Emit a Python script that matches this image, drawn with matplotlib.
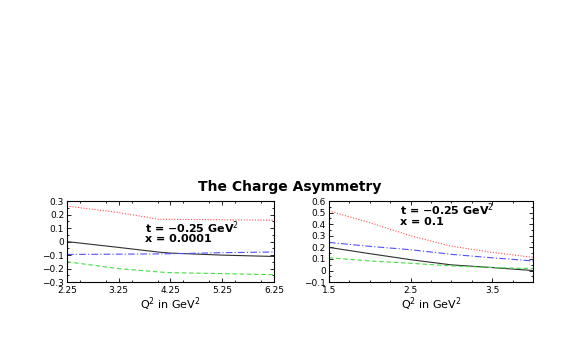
import numpy as np
import matplotlib.pyplot as plt
from matplotlib.ticker import MultipleLocator

# left panel, x = 0.0001
q2_left = [2.25, 3.25, 4.03, 4.25, 5.25, 6.25]
red_left = [0.263, 0.215, 0.165, 0.165, 0.162, 0.158]
black_left = [0.0, -0.043, -0.078, -0.085, -0.10, -0.11]
blue_left = [-0.095, -0.093, -0.091, -0.09, -0.082, -0.077]
green_left = [-0.149, -0.20, -0.225, -0.23, -0.237, -0.245]

# right panel, x = 0.1
q2_right = [1.5, 2.0, 2.5, 3.0, 3.5, 4.0]
red_right = [0.514, 0.414, 0.30, 0.21, 0.157, 0.114]
blue_right = [0.243, 0.209, 0.18, 0.14, 0.11, 0.083]
black_right = [0.20, 0.146, 0.094, 0.049, 0.026, 0.0]
green_right = [0.111, 0.083, 0.063, 0.04, 0.026, 0.017]

left_xticks = [2.25, 3.25, 4.25, 5.25, 6.25]
right_xticks = [1.5, 2.5, 3.5]
left_yticks = [-0.3, -0.2, -0.1, 0, 0.1, 0.2, 0.3]
right_yticks = [-0.1, 0, 0.1, 0.2, 0.3, 0.4, 0.5, 0.6]

plt.rcParams['font.family'] = ['DejaVu Sans']
plt.rcParams['axes.unicode_minus'] = True


def fmt(v):
    return ('%g' % v).replace('-', '\u2212')


fig = plt.figure(figsize=(5.72, 3.54), dpi=100)
ax1 = fig.add_axes([0.117, 0.203, 0.362, 0.229])
ax2 = fig.add_axes([0.575, 0.203, 0.357, 0.229])

styles = dict(
    red=dict(color='#ff5050', ls=(0, (1, 1.5)), lw=0.8),
    black=dict(color='#303030', ls='-', lw=0.8),
    blue=dict(color='#5050ff', ls=(0, (6, 2, 1, 2)), lw=0.8),
    green=dict(color='#40e040', ls=(0, (4, 2.5)), lw=0.8),
)

ax1.plot(q2_left, red_left, **styles['red'])
ax1.plot(q2_left, black_left, **styles['black'])
ax1.plot(q2_left, blue_left, **styles['blue'])
ax1.plot(q2_left, green_left, **styles['green'])
ax1.set_xlim(2.25, 6.25)
ax1.set_ylim(-0.3, 0.3)
ax1.set_xticks(left_xticks)
ax1.xaxis.set_minor_locator(MultipleLocator(0.5))
ax1.set_yticks(left_yticks)
ax1.set_yticklabels([fmt(v) for v in left_yticks])
ax1.yaxis.set_minor_locator(MultipleLocator(0.05))
ax1.text(3.76, 0.105, 't = \u22120.25 GeV$^2$', fontsize=8, fontweight='bold', va='center')
ax1.text(3.76, 0.018, 'x = 0.0001', fontsize=8, fontweight='bold', va='center')

ax2.plot(q2_right, red_right, **styles['red'])
ax2.plot(q2_right, blue_right, **styles['blue'])
ax2.plot(q2_right, black_right, **styles['black'])
ax2.plot(q2_right, green_right, **styles['green'])
ax2.set_xlim(1.5, 4.0)
ax2.set_ylim(-0.1, 0.6)
ax2.set_xticks(right_xticks)
ax2.xaxis.set_minor_locator(MultipleLocator(0.25))
ax2.set_yticks(right_yticks)
ax2.set_yticklabels([fmt(v) for v in right_yticks])
ax2.yaxis.set_minor_locator(MultipleLocator(0.05))
ax2.text(2.37, 0.522, 't = \u22120.25 GeV$^2$', fontsize=8, fontweight='bold', va='center')
ax2.text(2.37, 0.42, 'x = 0.1', fontsize=8, fontweight='bold', va='center')

for ax in (ax1, ax2):
    ax.tick_params(which='both', direction='in', top=True, right=True,
                   labelsize=6.5, pad=2)
    ax.tick_params(axis='x', pad=3)
    ax.tick_params(which='major', length=3, width=0.6)
    ax.tick_params(which='minor', length=1.5, width=0.6)
    ax.set_xticklabels([fmt(t) for t in ax.get_xticks()])
    for s in ax.spines.values():
        s.set_linewidth(0.8)
    ax.set_xlabel('Q$^2$ in GeV$^2$', fontsize=8, labelpad=0)

fig.text(0.507, 0.472, 'The Charge Asymmetry', ha='center', va='center',
         fontsize=10, fontweight='bold')

fig.savefig('out.png', dpi=100)
